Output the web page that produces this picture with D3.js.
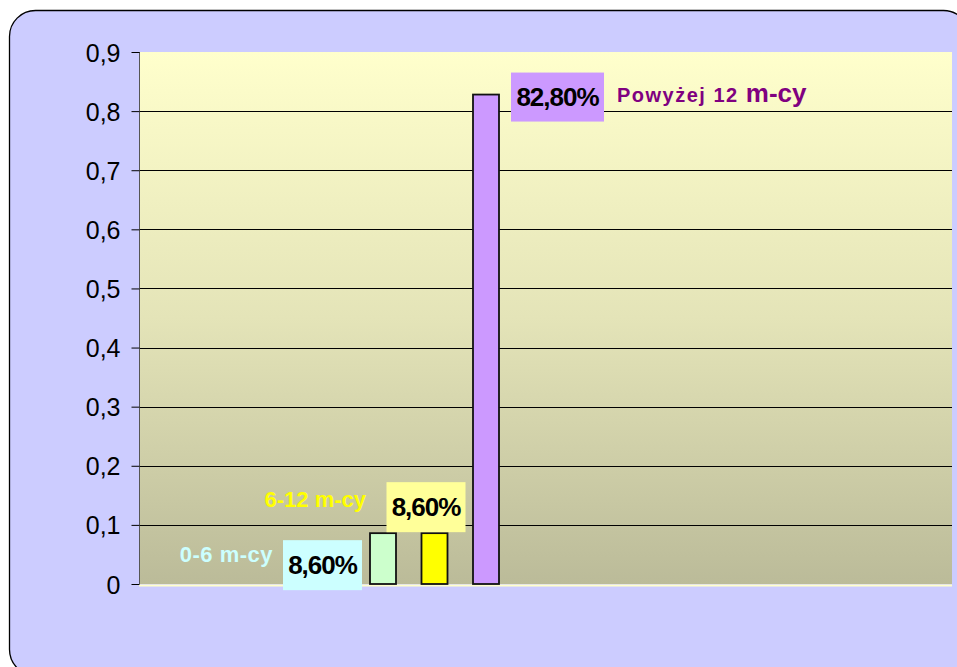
<!DOCTYPE html>
<html lang="pl">
<head>
<meta charset="utf-8">
<title>Okres</title>
<script src="https://cdn.jsdelivr.net/npm/d3@7"></script>
<style>
  body { margin: 0; background: #fff; }
  text { font-family: "Liberation Sans", Arial, sans-serif; }
</style>
</head>
<body>
<script>

var width = 957;
var height = 667;

// data
var categories = ["0-6 m-cy", "6-12 m-cy", "Powyżej 12 m-cy"];
var values = [0.086, 0.086, 0.828];
var valueLabels = ["8,60%", "8,60%", "82,80%"];
var ticks = [0, 0.1, 0.2, 0.3, 0.4, 0.5, 0.6, 0.7, 0.8, 0.9];
var barColors = ["#CCFFCC", "#FFFF00", "#CC99FF"];
var boxColors = ["#CCFFFF", "#FFFF99", "#CC99FF"];
var nameColors = ["#CCFFFF", "#FFFF00", "#800080"];

var plot = {left: 139, right: 952, top: 52, bottom: 584};

var svg = d3.select("body").append("svg")
    .attr("width", width)
    .attr("height", height);

var defs = svg.append("defs");
var grad = defs.append("linearGradient")
    .attr("id", "bg")
    .attr("x1", 0).attr("y1", 0).attr("x2", 0).attr("y2", 1);
grad.append("stop").attr("offset", "0%").attr("stop-color", "#FFFFCC");
grad.append("stop").attr("offset", "50%").attr("stop-color", "#E4E4B8");
grad.append("stop").attr("offset", "100%").attr("stop-color", "#BBBB99");

// outer panel
svg.append("rect")
    .attr("x", 9.5).attr("y", 10.5)
    .attr("width", 960).attr("height", 665)
    .attr("rx", 26).attr("ry", 26)
    .attr("fill", "#CCCCFF")
    .attr("stroke", "#000")
    .attr("stroke-width", 1.3);

var y = d3.scaleLinear().domain([0, 0.9]).range([plot.bottom, plot.top]);
var x = d3.scalePoint().domain(categories).range([383, 486]);
var barW = 26;

// plot area
svg.append("rect")
    .attr("x", plot.left).attr("y", plot.top)
    .attr("width", plot.right - plot.left)
    .attr("height", plot.bottom - plot.top)
    .attr("fill", "url(#bg)");
svg.append("line")
    .attr("x1", plot.left).attr("x2", plot.right)
    .attr("y1", plot.bottom + 1.5).attr("y2", plot.bottom + 1.5)
    .attr("stroke", "#FFFFCC").attr("stroke-width", 2);

// gridlines
svg.selectAll(".grid")
    .data(ticks.filter(function(t) { return t > 0 && t < 0.9; }))
    .enter().append("line")
    .attr("class", "grid")
    .attr("x1", plot.left).attr("x2", plot.right)
    .attr("y1", function(d) { return Math.round(y(d)) + 0.5; })
    .attr("y2", function(d) { return Math.round(y(d)) + 0.5; })
    .attr("stroke", "#000").attr("stroke-width", 1);

// y axis
var yAxis = d3.axisLeft(y)
    .tickValues(ticks)
    .tickSize(8)
    .tickFormat(function(d) { return d === 0 ? "0" : d3.format(".1f")(d).replace(".", ","); });
var ga = svg.append("g")
    .attr("transform", "translate(" + (plot.left + 0.5) + ",0)")
    .call(yAxis)
    .attr("font-size", 25)
    .attr("font-family", "Liberation Sans, Arial, sans-serif");
ga.select(".domain").attr("stroke", "#555").attr("d", "M0," + plot.top + "V" + plot.bottom);
ga.selectAll(".tick line").attr("stroke", "#000");
ga.selectAll(".tick text")
    .attr("x", -19)
    .attr("dy", "0.36em")
    .attr("fill", "#000");

// bars
svg.selectAll(".bar")
    .data(values)
    .enter().append("rect")
    .attr("class", "bar")
    .attr("x", function(d, i) { return x(categories[i]) - barW / 2; })
    .attr("y", function(d) { return y(d); })
    .attr("width", barW)
    .attr("height", function(d) { return y(0) - y(d); })
    .attr("fill", function(d, i) { return barColors[i]; })
    .attr("stroke", "#111")
    .attr("stroke-width", 1.8);

// value boxes (label position relative to each bar)
var boxes = [
    {dx: -87, dy: 7, w: 79, h: 50},
    {dx: -35, dy: -51, w: 79, h: 50},
    {dx: 38, dy: -22, w: 93, h: 49}
];
values.forEach(function(v, i) {
    var cx = x(categories[i]) - barW / 2;
    var b = boxes[i];
    var bx = cx + b.dx, by = y(v) + b.dy;
    svg.append("rect")
        .attr("x", bx).attr("y", by)
        .attr("width", b.w).attr("height", b.h)
        .attr("fill", boxColors[i]);
    svg.append("text")
        .attr("x", bx + b.w / 2).attr("y", by + b.h / 2 + 9)
        .attr("text-anchor", "middle")
        .attr("font-size", 26)
        .attr("font-weight", "bold")
        .attr("letter-spacing", -1)
        .attr("fill", "#000")
        .text(valueLabels[i]);
});

// category names
svg.append("text")
    .attr("x", 273).attr("y", 562)
    .attr("text-anchor", "end")
    .attr("font-size", 22).attr("font-weight", "bold")
    .attr("letter-spacing", 0.5)
    .attr("fill", nameColors[0])
    .text(categories[0]);
svg.append("text")
    .attr("x", 366).attr("y", 507)
    .attr("text-anchor", "end")
    .attr("font-size", 22).attr("font-weight", "bold")
    .attr("fill", nameColors[1])
    .text(categories[1]);
var t3 = svg.append("text")
    .attr("x", 617).attr("y", 102)
    .attr("font-weight", "bold")
    .attr("fill", nameColors[2]);
t3.append("tspan").attr("font-size", 20).attr("letter-spacing", 1.5).text("Powyżej 12 ");
t3.append("tspan").attr("font-size", 26).text("m-cy");

</script>
</body>
</html>
